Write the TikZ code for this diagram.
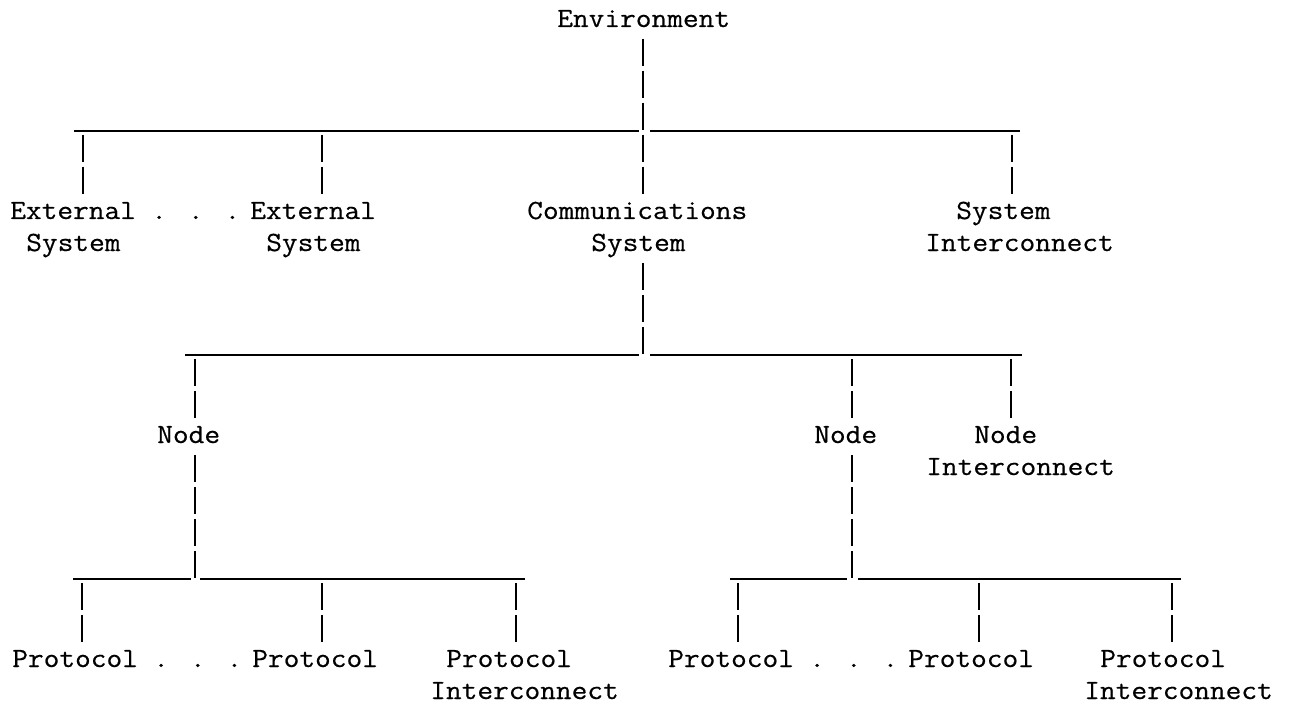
\documentclass[tikz,border=0pt]{standalone}
\usepackage{fontspec}
\newfontfamily\tw{Latin Modern Mono}[FakeStretch=1.1,FakeBold=0.45]
\begin{document}
\begin{tikzpicture}[x=0.75pt,y=-0.75pt,
  lbl/.style={anchor=base west,inner sep=0pt,font=\tw\fontsize{20.8}{26}\selectfont},
  vl/.style={line width=1.4pt,dash pattern=on 20.25pt off 3.75pt},
  hl/.style={line width=1.8pt}]
\useasboundingbox[fill=white] (0,0) rectangle (1294,709);
% ---- texts (baseline of row r = 27 + 32 r)
\node[lbl] (env) at (557,27) {Environment};
\node[lbl] (ext1) at (10,219) {External};
\node[lbl] (ext1b) at (26,251) {System};
\node[lbl] (dots1) at (151,219) {. . .};
\node[lbl] (ext2) at (250,219) {External};
\node[lbl] (ext2b) at (266,251) {System};
\node[lbl] (comm) at (527,219) {Communications};
\node[lbl] (commb) at (591,251) {System};
\node[lbl] (sys) at (956,219) {System};
\node[lbl] (sysb) at (925,251) {Interconnect};
\node[lbl] (nodeL) at (157,443) {Node};
\node[lbl] (nodeR) at (814,443) {Node};
\node[lbl] (ni) at (974,443) {Node};
\node[lbl] (nib) at (926,475) {Interconnect};
\node[lbl] (pl1) at (12,667) {Protocol};
\node[lbl] (dotsL) at (153,667) {. . .};
\node[lbl] (pl2) at (252,667) {Protocol};
\node[lbl] (pl3) at (446,667) {Protocol};
\node[lbl] (pl3b) at (430,699) {Interconnect};
\node[lbl] (pr1) at (668,667) {Protocol};
\node[lbl] (dotsR) at (809,667) {. . .};
\node[lbl] (pr2) at (908,667) {Protocol};
\node[lbl] (pr3) at (1100,667) {Protocol};
\node[lbl] (pr3b) at (1084,699) {Interconnect};
% ---- coordinates
\coordinate (e0) at (643,39);   \coordinate (e1) at (643,130);
\coordinate (b1a) at (74,131);  \coordinate (b1b) at (639,131);
\coordinate (b1c) at (650,131); \coordinate (b1d) at (1020,131);
\coordinate (d1a) at (83,135);  \coordinate (d1b) at (83,194);
\coordinate (d2a) at (322,135); \coordinate (d2b) at (322,194);
\coordinate (d3a) at (643,135); \coordinate (d3b) at (643,194);
\coordinate (d4a) at (1012,135);\coordinate (d4b) at (1012,194);
\coordinate (c0) at (643,263);  \coordinate (c1) at (643,354);
\coordinate (b2a) at (185,355); \coordinate (b2b) at (639,355);
\coordinate (b2c) at (650,355); \coordinate (b2d) at (1022,355);
\coordinate (n1a) at (195,359); \coordinate (n1b) at (195,418);
\coordinate (n2a) at (852,359); \coordinate (n2b) at (852,418);
\coordinate (n3a) at (1011,359);\coordinate (n3b) at (1011,418);
\coordinate (l0) at (195,455);  \coordinate (l1) at (195,578);
\coordinate (b3a) at (73,579);  \coordinate (b3b) at (191,579);
\coordinate (b3c) at (200,579); \coordinate (b3d) at (525,579);
\coordinate (p1a) at (82,583);  \coordinate (p1b) at (82,642);
\coordinate (p2a) at (322,583); \coordinate (p2b) at (322,642);
\coordinate (p3a) at (516,583); \coordinate (p3b) at (516,642);
\coordinate (r0) at (852,455);  \coordinate (r1) at (852,578);
\coordinate (b4a) at (730,579); \coordinate (b4b) at (847,579);
\coordinate (b4c) at (858,579); \coordinate (b4d) at (1181,579);
\coordinate (q1a) at (738,583); \coordinate (q1b) at (738,642);
\coordinate (q2a) at (979,583); \coordinate (q2b) at (979,642);
\coordinate (q3a) at (1172,583);\coordinate (q3b) at (1172,642);
% ---- connectors
\draw[vl] (e0) -- (e1);
\draw[hl] (b1a) -- (b1b); \draw[hl] (b1c) -- (b1d);
\draw[vl] (d1a) -- (d1b); \draw[vl] (d2a) -- (d2b);
\draw[vl] (d3a) -- (d3b); \draw[vl] (d4a) -- (d4b);
\draw[vl] (c0) -- (c1);
\draw[hl] (b2a) -- (b2b); \draw[hl] (b2c) -- (b2d);
\draw[vl] (n1a) -- (n1b); \draw[vl] (n2a) -- (n2b); \draw[vl] (n3a) -- (n3b);
\draw[vl] (l0) -- (l1);
\draw[hl] (b3a) -- (b3b); \draw[hl] (b3c) -- (b3d);
\draw[vl] (p1a) -- (p1b); \draw[vl] (p2a) -- (p2b); \draw[vl] (p3a) -- (p3b);
\draw[vl] (r0) -- (r1);
\draw[hl] (b4a) -- (b4b); \draw[hl] (b4c) -- (b4d);
\draw[vl] (q1a) -- (q1b); \draw[vl] (q2a) -- (q2b); \draw[vl] (q3a) -- (q3b);
\end{tikzpicture}
\end{document}
